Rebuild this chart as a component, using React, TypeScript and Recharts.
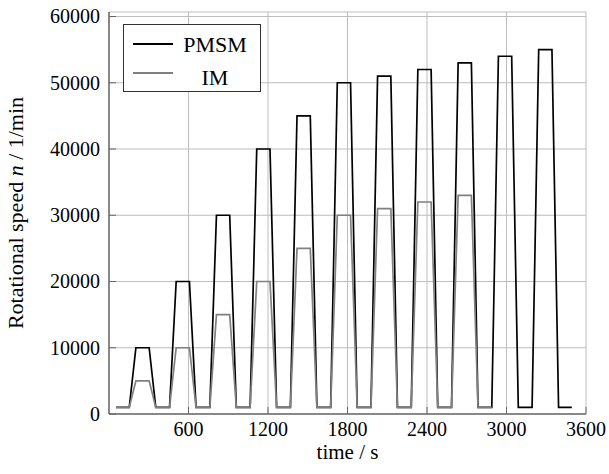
import React from 'react';
import { LineChart, Line, XAxis, YAxis, CartesianGrid, Legend } from 'recharts';

const pmsmTime = [
  53, 153, 203, 303, 353,
  457, 507, 607, 657,
  761, 811, 911, 961,
  1065, 1115, 1215, 1265,
  1369, 1419, 1519, 1569,
  1673, 1723, 1823, 1873,
  1977, 2027, 2127, 2177,
  2281, 2331, 2431, 2481,
  2585, 2635, 2735, 2785,
  2889, 2939, 3039, 3089,
  3193, 3243, 3343, 3393,
  3493,
];
const pmsmSpeed = [
  1000, 1000, 10000, 10000, 1000,
  1000, 20000, 20000, 1000,
  1000, 30000, 30000, 1000,
  1000, 40000, 40000, 1000,
  1000, 45000, 45000, 1000,
  1000, 50000, 50000, 1000,
  1000, 51000, 51000, 1000,
  1000, 52000, 52000, 1000,
  1000, 53000, 53000, 1000,
  1000, 54000, 54000, 1000,
  1000, 55000, 55000, 1000,
  1000,
];
const imTime = [
  53, 153, 203, 303, 353,
  457, 507, 607, 657,
  761, 811, 911, 961,
  1065, 1115, 1215, 1265,
  1369, 1419, 1519, 1569,
  1673, 1723, 1823, 1873,
  1977, 2027, 2127, 2177,
  2281, 2331, 2431, 2481,
  2585, 2635, 2735, 2785,
  2889,
];
const imSpeed = [
  1000, 1000, 5000, 5000, 1000,
  1000, 10000, 10000, 1000,
  1000, 15000, 15000, 1000,
  1000, 20000, 20000, 1000,
  1000, 25000, 25000, 1000,
  1000, 30000, 30000, 1000,
  1000, 31000, 31000, 1000,
  1000, 32000, 32000, 1000,
  1000, 33000, 33000, 1000,
  1000,
];
const xTicks = [600, 1200, 1800, 2400, 3000, 3600];
const yTicks = [0, 10000, 20000, 30000, 40000, 50000, 60000];
const seriesNames = ['PMSM', 'IM'];
const xLabel = 'time / s';

const pmsmData = pmsmTime.map((t, i) => ({ t, n: pmsmSpeed[i] }));
const imData = imTime.map((t, i) => ({ t, n: imSpeed[i] }));

const FONT = '"Liberation Serif", "Times New Roman", serif';
const textStyle = { fontFamily: FONT };

const LegendBox = () => (
  <div
    style={{
      width: 138,
      height: 68,
      boxSizing: 'border-box',
      border: '1px solid #333',
      background: '#fff',
    }}
  >
    <svg width={136} height={66} style={{ display: 'block' }}>
      <line x1={9} x2={49} y1={19} y2={19} stroke="#000" strokeWidth={2} />
      <text x={91} y={26.5} textAnchor="middle" style={textStyle} fontSize={22} fill="#000">
        {seriesNames[0]}
      </text>
      <line x1={9} x2={49} y1={48} y2={48} stroke="#808080" strokeWidth={2} />
      <text x={91} y={59.5} textAnchor="middle" style={textStyle} fontSize={22} fill="#000">
        {seriesNames[1]}
      </text>
    </svg>
  </div>
);

const XTick = (props: any) => {
  const { x, y, payload } = props;
  return (
    <text x={x} y={y} dy="0.71em" textAnchor="middle" style={textStyle} fontSize={20} fill="#000">
      {payload.value}
    </text>
  );
};

const YTick = (props: any) => {
  const { x, y, payload } = props;
  return (
    <text x={x} y={y} dy="0.34em" textAnchor="end" style={textStyle} fontSize={20} fill="#000">
      {payload.value}
    </text>
  );
};

const XLabel = (props: any) => {
  const vb = props.viewBox || {};
  return (
    <text x={vb.x + vb.width / 2} y={459} textAnchor="middle" style={textStyle} fontSize={21} fill="#000">
      {xLabel}
    </text>
  );
};

const YLabel = (props: any) => {
  const vb = props.viewBox || {};
  const cy = vb.y + vb.height / 2;
  return (
    <text
      x={23}
      y={cy}
      transform={`rotate(-90, 23, ${cy})`}
      textAnchor="middle"
      style={textStyle}
      fontSize={22}
      fill="#000"
    >
      Rotational speed <tspan fontStyle="italic">n</tspan> / 1/min
    </text>
  );
};

export default function App() {
  return (
    <div style={{ position: 'absolute', left: 0, top: 0, background: '#fff', fontFamily: FONT }}>
      <LineChart width={609} height={474} margin={{ top: 12, right: 23, bottom: 0, left: 0 }}>
        <CartesianGrid stroke="#bdbdbd" strokeWidth={1} />
        <XAxis
          xAxisId={0}
          type="number"
          dataKey="t"
          domain={[0, 3600]}
          ticks={xTicks}
          interval={0}
          allowDataOverflow
          height={60}
          axisLine={{ stroke: '#333', strokeWidth: 1 }}
          tickLine={{ stroke: '#666' }}
          tickSize={-7}
          tickMargin={15}
          tick={<XTick />}
          label={<XLabel />}
        />
        <XAxis
          xAxisId="top"
          orientation="top"
          type="number"
          domain={[0, 3600]}
          ticks={xTicks}
          interval={0}
          height={0}
          axisLine={{ stroke: '#333', strokeWidth: 1 }}
          tickLine={{ stroke: '#666' }}
          tickSize={-7}
          tick={false}
        />
        <YAxis
          yAxisId={0}
          type="number"
          domain={[0, 60680]}
          ticks={yTicks}
          interval={0}
          allowDataOverflow
          width={109}
          axisLine={{ stroke: '#333', strokeWidth: 1 }}
          tickLine={{ stroke: '#666' }}
          tickSize={-7}
          tickMargin={16}
          tick={<YTick />}
          label={<YLabel />}
        />
        <YAxis
          yAxisId="right"
          orientation="right"
          type="number"
          domain={[0, 60680]}
          ticks={yTicks}
          interval={0}
          width={0}
          axisLine={{ stroke: '#333', strokeWidth: 1 }}
          tickLine={{ stroke: '#666' }}
          tickSize={-7}
          tick={false}
        />
        <Line
          data={pmsmData}
          dataKey="n"
          name={seriesNames[0]}
          stroke="#000"
          strokeWidth={1.7}
          dot={false}
          isAnimationActive={false}
        />
        <Line
          data={imData}
          dataKey="n"
          name={seriesNames[1]}
          stroke="#808080"
          strokeWidth={1.7}
          dot={false}
          isAnimationActive={false}
        />
        <Legend
          layout="vertical"
          align="center"
          verticalAlign="middle"
          wrapperStyle={{ left: 123, top: 24, width: 138, height: 68 }}
          content={() => <LegendBox />}
        />
      </LineChart>
    </div>
  );
}
